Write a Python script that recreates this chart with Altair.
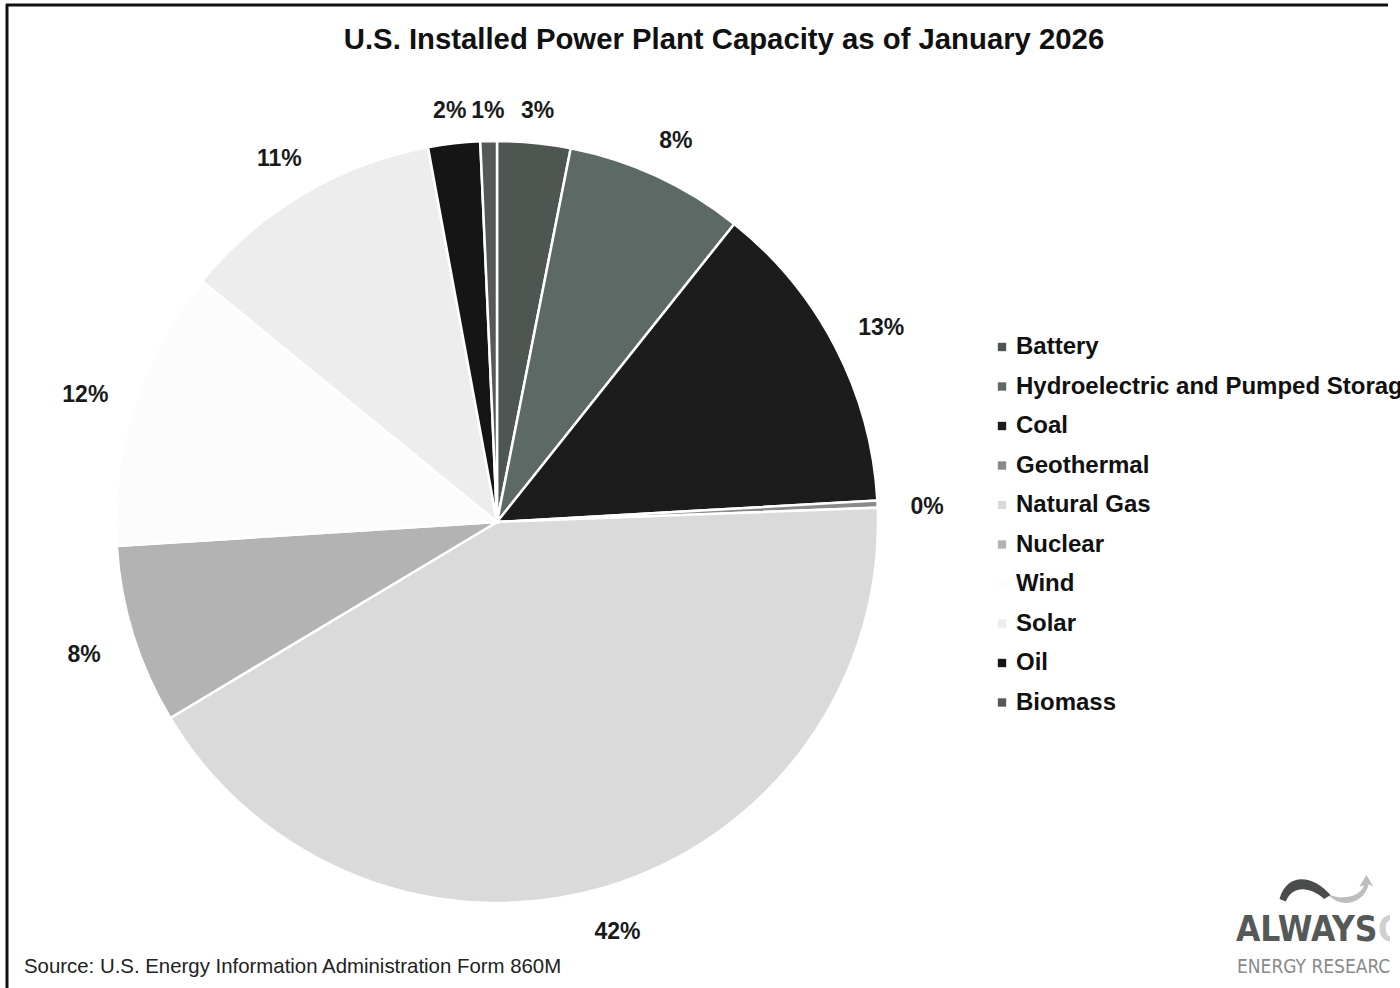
import altair as alt
import pandas as pd

# U.S. installed capacity shares (percent of total), clockwise from 12 o'clock
sources = [
    "Battery",
    "Hydroelectric and Pumped Storage",
    "Coal",
    "Geothermal",
    "Natural Gas",
    "Nuclear",
    "Wind",
    "Solar",
    "Oil",
    "Biomass",
]
shares = [3.1, 7.6, 13.4, 0.3, 42.0, 7.6, 11.9, 11.2, 2.2, 0.7]
grays = [
    "#4e5651", "#5d6964", "#1c1c1c", "#8a8a8a", "#dadada",
    "#b3b3b3", "#fcfcfc", "#ededed", "#151515", "#555a57",
]

title_text = "U.S. Installed Power Plant Capacity as of January 2026"
source_text = "Source: U.S. Energy Information Administration Form 860M"

df = pd.DataFrame({"source": sources, "share": shares, "rank": list(range(len(sources)))})

CX, CY, R = 497, 522, 381
FONT = "Liberation Sans"

arcs = alt.Chart(df).mark_arc(outerRadius=R, stroke="white", strokeWidth=2.5).encode(
    theta=alt.Theta("share:Q", stack=True),
    order=alt.Order("rank:Q", sort="ascending"),
    x=alt.value(CX),
    y=alt.value(CY),
    color=alt.Color(
        "source:N",
        scale=alt.Scale(domain=sources, range=grays),
        legend=alt.Legend(
            orient="none",
            legendX=990,
            legendY=335,
            title=None,
            symbolType="square",
            symbolSize=70,
            symbolStrokeWidth=0,
            labelFontSize=24,
            labelFont=FONT,
            labelFontWeight="bold",
            labelColor="#111111",
            rowPadding=15.5,
            labelOffset=2,
            labelLimit=700,
            padding=0,
        ),
    ),
)

# Percent labels: placed just outside the rim at each slice's mid-angle,
# pushed further out at the sides to leave room for the text width.
labels = alt.Chart(df).transform_joinaggregate(
    total="sum(share)"
).transform_window(
    cum="sum(share)", sort=[alt.SortField("rank")], frame=[None, 0]
).transform_calculate(
    pct="datum.share / datum.total",
    mid="(datum.cum - datum.share / 2) / datum.total * 2 * PI",
).transform_calculate(
    lab_r="404 + 26 * abs(sin(datum.mid)) + 12 * abs(cos(datum.mid))"
).transform_calculate(
    lab_x=f"{CX} + datum.lab_r * sin(datum.mid)",
    lab_y=f"{CY + 5} - datum.lab_r * cos(datum.mid)",
).mark_text(
    fontSize=23, font=FONT, fontWeight="bold", color="#1a1a1a",
    align="center", baseline="middle"
).encode(
    x=alt.X("lab_x:Q", scale=None),
    y=alt.Y("lab_y:Q", scale=None),
    text=alt.Text("pct:Q", format=".0%"),
)


def text_layer(txt, x, y, **kw):
    return alt.Chart(pd.DataFrame({"t": [txt]})).mark_text(**kw).encode(
        text="t:N", x=alt.value(x), y=alt.value(y)
    )


title = text_layer(title_text, 724, 40, fontSize=29.3, font=FONT, fontWeight="bold",
                   color="#111111", align="center", baseline="middle")
source = text_layer(source_text, 24, 967, fontSize=20.4, font=FONT, color="#222222",
                    align="left", baseline="middle")

LOGO_FONT = "DejaVu Sans Condensed"
logo_main = text_layer("ALWAYS", 1236, 930, fontSize=35, font=LOGO_FONT,
                       fontWeight="bold", color="#555957", align="left", baseline="middle")
logo_on = text_layer("ON", 1378, 930, fontSize=35, font=LOGO_FONT,
                     fontWeight="bold", color="#cfcfcf", align="left", baseline="middle")
logo_sub = text_layer("ENERGY RESEARCH", 1237, 967, fontSize=19, font=LOGO_FONT,
                      color="#8a8a8a", align="left", baseline="middle")

# swoosh above the logo lettering
swoosh_dark = "M -1 0.35 C -0.7 -0.7, 0.3 -0.6, 1 0.2 L 0.75 0.35 C 0.2 -0.15, -0.5 -0.2, -0.75 0.45 Z"
swoosh_light = "M -1 0.2 C -0.3 0.9, 0.6 0.6, 0.8 -0.2 L 1 -0.1 L 0.7 -0.6 L 0.4 -0.1 L 0.6 -0.15 C 0.4 0.35, -0.3 0.5, -1 0.2 Z"
one = pd.DataFrame({"a": [0]})
logo_mark_dark = alt.Chart(one).mark_point(
    shape=swoosh_dark, filled=True, color="#4a4d4b", size=2600, opacity=1
).encode(x=alt.value(1305), y=alt.value(890))
logo_mark_light = alt.Chart(one).mark_point(
    shape=swoosh_light, filled=True, color="#bdbdbd", size=2200, opacity=1
).encode(x=alt.value(1350), y=alt.value(889))

top_rule = alt.Chart(one).mark_rule(color="#111111", strokeWidth=3).encode(
    x=alt.value(6), x2=alt.value(1388), y=alt.value(5)
)
left_rule = alt.Chart(one).mark_rule(color="#111111", strokeWidth=3).encode(
    x=alt.value(7), y=alt.value(4), y2=alt.value(988)
)
edge = alt.Chart(one).mark_rect(color="white").encode(
    x=alt.value(1390), x2=alt.value(1400), y=alt.value(0), y2=alt.value(988)
)

chart = alt.layer(
    arcs, labels, title, source, logo_mark_light, logo_mark_dark,
    logo_main, logo_on, logo_sub, top_rule, left_rule, edge
).properties(
    width=1400,
    height=988,
    padding=0,
    autosize=alt.AutoSizeParams(type="none"),
).configure_view(stroke=None)

chart.save("out.html", embed_options={"renderer": "svg", "actions": False})
